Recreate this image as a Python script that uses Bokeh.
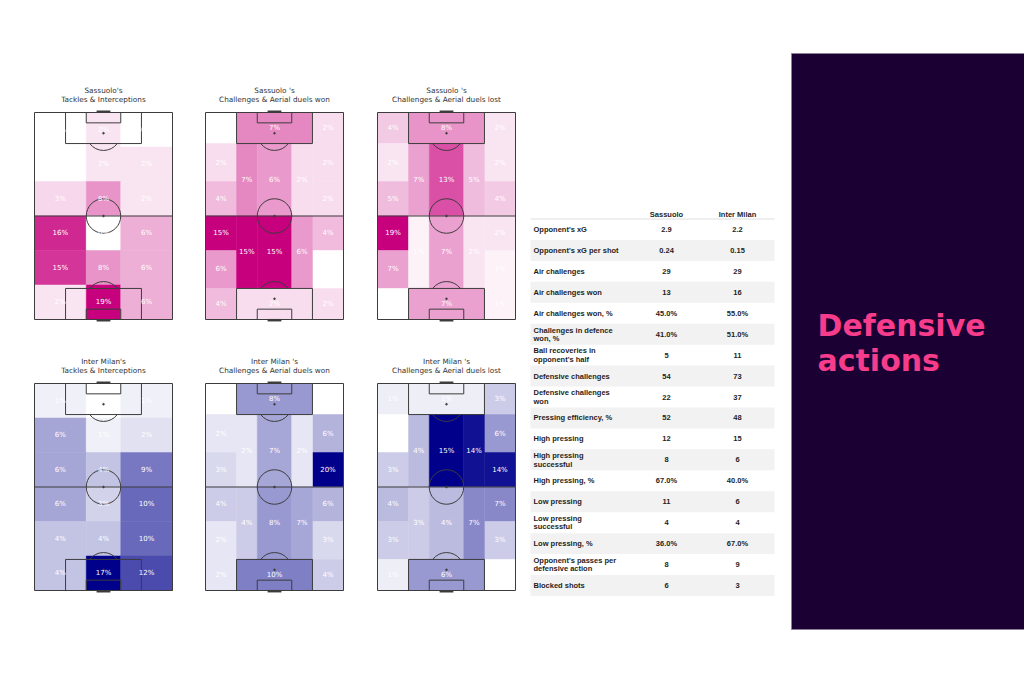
import math
from bokeh.plotting import figure
from bokeh.models import Range1d, ColumnDataSource, LinearColorMapper, Spacer
from bokeh.layouts import row, column
from bokeh.embed import file_html
from bokeh.resources import INLINE
from bokeh.core.properties import value

# ---------------- DATA ----------------
team_names = ["Sassuolo", "Inter Milan"]
pitch_titles = [
    ("Sassuolo's", "Tackles & Interceptions"),
    ("Sassuolo 's", "Challenges & Aerial duels won"),
    ("Sassuolo 's", "Challenges & Aerial duels lost"),
    ("Inter Milan's", "Tackles & Interceptions"),
    ("Inter Milan 's", "Challenges & Aerial duels won"),
    ("Inter Milan 's", "Challenges & Aerial duels lost"),
]

# 3 x 6 grid, rows listed from top of pitch to bottom, columns left->right (%)
sas_tackles = [0, 2, 0,
               0, 2, 2,
               3, 8, 2,
               16, 0, 6,
               15, 8, 6,
               2, 19, 6]
int_tackles = [1, 0, 1,
               6, 1, 2,
               6, 4, 9,
               6, 3, 10,
               4, 4, 10,
               4, 17, 12]

# positional zones: top box, wide-left x6 (top->bottom), wide-right x6,
# half-space-left (upper, lower), central (upper, lower), half-space-right (upper, lower), bottom box
sas_won = [7, 0, 2, 4, 15, 6, 4, 2, 2, 2, 4, 0, 2, 7, 15, 6, 15, 2, 6, 2]
sas_lost = [8, 4, 2, 5, 19, 7, 0, 2, 2, 4, 2, 1, 1, 7, 1, 13, 7, 5, 2, 7]
int_won = [8, 0, 2, 3, 4, 2, 2, 0, 6, 20, 6, 3, 4, 2, 4, 7, 8, 2, 7, 10]
int_lost = [1, 1, 0, 3, 4, 3, 1, 3, 6, 14, 7, 3, 0, 4, 3, 15, 4, 14, 7, 6]

table_labels = ["Opponent's xG", "Opponent's xG per shot", "Air challenges", "Air challenges won",
                "Air challenges won, %", "Challenges in defence\nwon, %", "Ball recoveries in\nopponent's half",
                "Defensive challenges", "Defensive challenges\nwon", "Pressing efficiency, %", "High pressing",
                "High pressing\nsuccessful", "High pressing, %", "Low pressing", "Low pressing\nsuccessful",
                "Low pressing, %", "Opponent's passes per\ndefensive action", "Blocked shots"]
sassuolo_vals = ["2.9", "0.24", "29", "13", "45.0%", "41.0%", "5", "54", "22", "52", "12", "8",
                 "67.0%", "11", "4", "36.0%", "8", "6"]
inter_vals = ["2.2", "0.15", "29", "16", "55.0%", "51.0%", "11", "73", "37", "48", "15", "6",
              "40.0%", "6", "4", "67.0%", "9", "3"]

panel_title = ["Defensive", "actions"]

# ---------------- GEOMETRY (StatsBomb pitch 80 x 120) ----------------
PW, PL = 80.0, 120.0
S = 138.0 / PW            # px per pitch unit
FW, FH = 160, 242
ML, MB, MT = 8, 3, 32

def grid_zones():
    cols = [0, 30, 50, 80]
    rows_ = [120, 100, 80, 60, 40, 20, 0]
    z = []
    for r in range(6):
        for c in range(3):
            z.append((cols[c], cols[c + 1], rows_[r + 1], rows_[r]))
    return z

def positional_zones():
    z = [(18, 62, 102, 120)]
    wide_rows = [(102, 120), (80, 102), (60, 80), (40, 60), (18, 40), (0, 18)]
    for (l, r) in [(0, 18), (62, 80)]:
        for (b, t) in wide_rows:
            z.append((l, r, b, t))
    for (l, r) in [(18, 30), (30, 50), (50, 62)]:
        z.append((l, r, 60, 102))
        z.append((l, r, 18, 60))
    z.append((18, 62, 0, 18))
    return z

def ramp(end):
    return ["#%02x%02x%02x" % tuple(int(round(255 + (e - 255) * i / 255.0)) for e in end)
            for i in range(256)]

PINK = ramp((199, 0, 125))
BLUE = ramp((0, 0, 139))
LC = "#3c3c3c"

def pitch_fig(titles, zones, vals, palette):
    p = figure(width=FW, height=FH, toolbar_location=None, output_backend="svg",
               x_range=Range1d(-ML / S, (FW - ML) / S), y_range=Range1d(-MB / S, (FH - MB) / S),
               min_border=0)
    p.axis.visible = False
    p.grid.visible = False
    p.outline_line_color = None
    p.background_fill_color = "white"
    p.border_fill_color = "white"
    mapper = LinearColorMapper(palette=palette, low=0, high=max(vals))
    src = ColumnDataSource(dict(
        l=[z[0] for z in zones], r=[z[1] for z in zones],
        b=[z[2] for z in zones], t=[z[3] for z in zones],
        v=vals, x=[(z[0] + z[1]) / 2 for z in zones], y=[(z[2] + z[3]) / 2 for z in zones],
        lab=["%d%%" % v for v in vals]))
    p.quad(left="l", right="r", bottom="b", top="t", source=src,
           fill_color={"field": "v", "transform": mapper},
           line_color={"field": "v", "transform": mapper}, line_width=0.5)
    # pitch markings
    p.quad(left=[0, 18, 18, 30, 30], right=[80, 62, 62, 50, 50],
           bottom=[0, 0, 102, 0, 114], top=[120, 18, 120, 6, 120],
           fill_color=None, line_color=LC, line_width=1)
    p.segment(x0=[0], y0=[PL / 2], x1=[PW], y1=[PL / 2], line_color=LC, line_width=1)
    p.circle(x=[PW / 2], y=[PL / 2], radius=10, fill_color=None, line_color=LC, line_width=1)
    a = math.asin(0.6)
    p.arc(x=[40, 40], y=[12, 108], radius=10,
          start_angle=[a, math.pi + a], end_angle=[math.pi - a, 2 * math.pi - a],
          line_color=LC, line_width=1)
    p.scatter(x=[40, 40, 40], y=[12, 60, 108], size=1.6, color=LC)
    p.segment(x0=[36, 36], y0=[120.4, -0.4], x1=[44, 44], y1=[120.4, -0.4], line_color=LC, line_width=2.5)
    p.text(x="x", y="y", text="lab", source=src, text_color="white", text_font_size="7px",
           text_align="center", text_baseline="middle", text_font=value("DejaVu Sans"))
    p.text(x=[PW / 2, PW / 2], y=[PL + 22 / S, PL + 13 / S], text=list(titles),
           text_color="#333333", text_font_size="7.3px", text_align="center",
           text_baseline="middle", text_font=value("DejaVu Sans"))
    return p

figs = [
    pitch_fig(pitch_titles[0], grid_zones(), sas_tackles, PINK),
    pitch_fig(pitch_titles[1], positional_zones(), sas_won, PINK),
    pitch_fig(pitch_titles[2], positional_zones(), sas_lost, PINK),
    pitch_fig(pitch_titles[3], grid_zones(), int_tackles, BLUE),
    pitch_fig(pitch_titles[4], positional_zones(), int_won, BLUE),
    pitch_fig(pitch_titles[5], positional_zones(), int_lost, BLUE),
]

# ---------------- TABLE ----------------
TW, TH = 251, 683
RH = 20.94
ROW1 = 229.0
t = figure(width=TW, height=TH, toolbar_location=None, output_backend="svg",
           x_range=Range1d(0, TW),
           y_range=Range1d(start=(TH - ROW1) / RH + 1, end=(0 - ROW1) / RH + 1),
           min_border=0)
t.axis.visible = False
t.grid.visible = False
t.outline_line_color = None
n = len(table_labels)
rows_idx = list(range(1, n + 1))
even = [i for i in rows_idx if i % 2 == 0]
t.quad(left=1, right=245, bottom=[i + 0.5 for i in even], top=[i - 0.5 for i in even],
       fill_color="#f2f2f2", line_color=None)
t.segment(x0=[1], y0=[0.5], x1=[245], y1=[0.5], line_color="#dedede", line_width=1)
lx, ly, lt = [], [], []
for i, lab in zip(rows_idx, table_labels):
    parts = lab.split("\n")
    if len(parts) == 1:
        lx.append(4); ly.append(i); lt.append(lab)
    else:
        lx += [4, 4]; ly += [i - 0.2, i + 0.2]; lt += parts
TF = value("Liberation Sans")
TC = "#1e1e1e"
t.text(x=lx, y=ly, text=lt, text_font=TF, text_font_style="bold", text_font_size="7.5px",
       text_color=TC, text_align="left", text_baseline="middle")
t.text(x=[137] * n, y=rows_idx, text=sassuolo_vals, text_font=TF, text_font_style="bold",
       text_font_size="7.5px", text_color=TC, text_align="center", text_baseline="middle")
t.text(x=[208] * n, y=rows_idx, text=inter_vals, text_font=TF, text_font_style="bold",
       text_font_size="7.5px", text_color=TC, text_align="center", text_baseline="middle")
t.text(x=[137, 208], y=[0.28, 0.28], text=team_names, text_font=TF, text_font_style="bold",
       text_font_size="7.5px", text_color=TC, text_align="center", text_baseline="middle")

# ---------------- PANEL ----------------
PWID = 244
pn = figure(width=PWID, height=TH, toolbar_location=None, output_backend="svg",
            x_range=Range1d(0, PWID), y_range=Range1d(start=TH, end=0), min_border=0)
pn.axis.visible = False
pn.grid.visible = False
pn.outline_line_color = None
pn.quad(left=[11], right=[PWID + 2], top=[53], bottom=[629], fill_color="#1a0033",
        line_color="#8a8299", line_width=1)
pn.text(x=[37, 37], y=[325, 360], text=panel_title, text_font=value("DejaVu Sans"),
        text_font_style="bold", text_font_size="30px", text_color="#f73c8c",
        text_align="left", text_baseline="alphabetic")

left_block = column(
    Spacer(width=529, height=80),
    row(Spacer(width=26, height=FH), figs[0], Spacer(width=11, height=FH), figs[1],
        Spacer(width=12, height=FH), figs[2]),
    Spacer(width=529, height=29),
    row(Spacer(width=26, height=FH), figs[3], Spacer(width=11, height=FH), figs[4],
        Spacer(width=12, height=FH), figs[5]),
    Spacer(width=529, height=TH - 80 - FH - 29 - FH),
)
layout = row(left_block, t, pn)

open("out.html", "w").write(file_html(layout, INLINE))
